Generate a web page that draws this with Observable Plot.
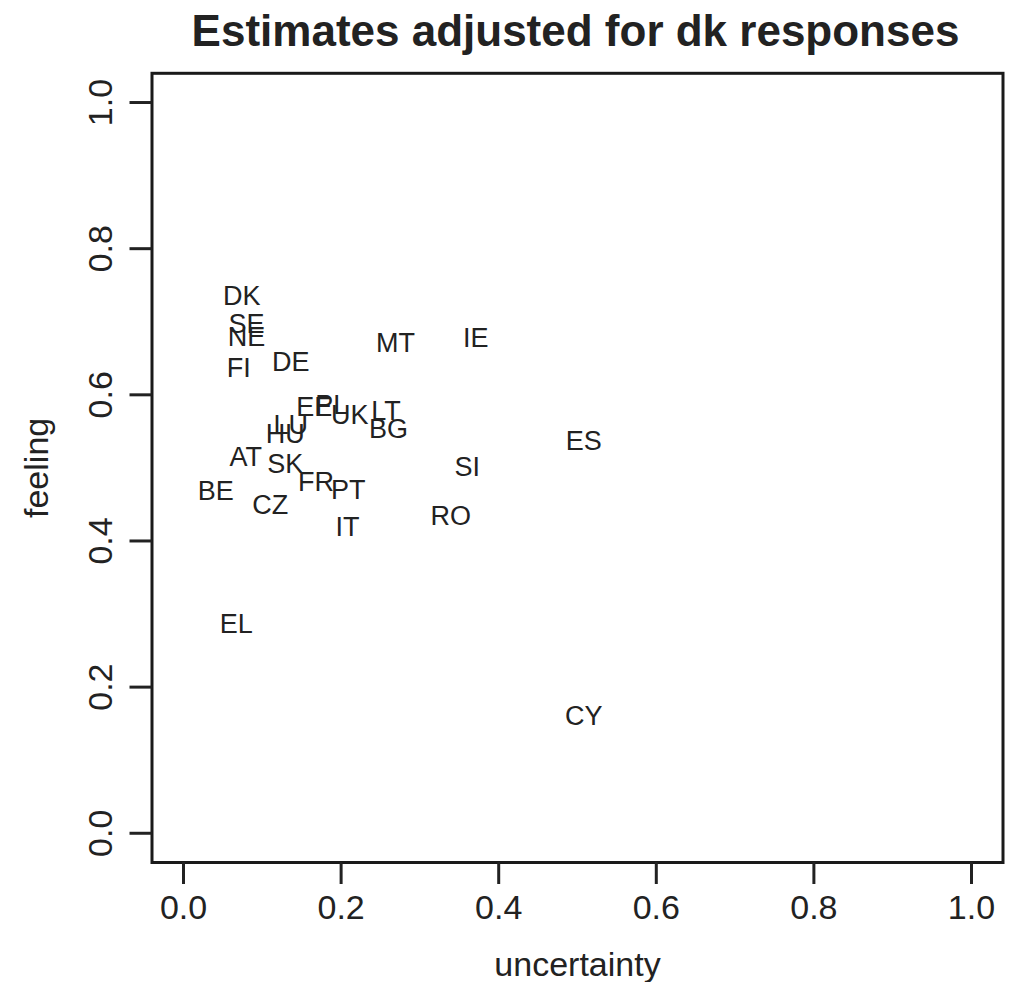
<!DOCTYPE html>
<html>
<head>
<meta charset="utf-8">
<script src="https://cdn.jsdelivr.net/npm/d3@7"></script>
<script src="https://cdn.jsdelivr.net/npm/@observablehq/plot@0.6"></script>
<style>
  body { margin: 0; background: #fff; }
  #wrap { position: relative; width: 1020px; height: 982px; font-family: "Liberation Sans", Arial, Helvetica, sans-serif; }
  #title { position: absolute; left: 0; width: 1151px; top: 6px; text-align: center; font-size: 44px; font-weight: bold; color: #222; }
</style>
</head>
<body>
<div id="wrap">
  <div id="title">Estimates adjusted for dk responses</div>
  <div id="chart"></div>
</div>
<script>
const countries = ["DK","SE","NE","FI","DE","MT","IE","EE","PL","UK","LT","BG","LU","HU","AT","SK","FR","PT","BE","CZ","IT","SI","RO","ES","EL","CY"];
const uncertainty = [0.074,0.080,0.080,0.070,0.136,0.269,0.371,0.166,0.188,0.211,0.257,0.260,0.136,0.129,0.079,0.129,0.168,0.209,0.041,0.110,0.208,0.360,0.339,0.508,0.067,0.508];
const feeling = [0.735,0.696,0.679,0.636,0.644,0.670,0.677,0.583,0.586,0.572,0.578,0.553,0.558,0.546,0.514,0.505,0.480,0.469,0.468,0.449,0.419,0.501,0.434,0.536,0.286,0.160];
const xTicks = [0, 0.2, 0.4, 0.6, 0.8, 1.0];
const yTicks = [0, 0.2, 0.4, 0.6, 0.8, 1.0];

const data = countries.map((c, i) => ({country: c, uncertainty: uncertainty[i], feeling: feeling[i]}));
const fmt = d => d.toFixed(1);
const font = '"Liberation Sans", Arial, Helvetica, sans-serif';

const chart = Plot.plot({
  width: 1020,
  height: 982,
  marginLeft: 151.5,
  marginRight: 17.5,
  marginTop: 72.8,
  marginBottom: 120,
  style: {fontFamily: font, background: "#fff", color: "#222"},
  x: {domain: [-0.04, 1.04]},
  y: {domain: [-0.04, 1.04]},
  marks: [
    Plot.frame({stroke: "#1a1a1a", strokeWidth: 3}),
    Plot.axisX({ticks: xTicks, tickSize: 22, tickPadding: 10, fontSize: 34, tickFormat: fmt, strokeWidth: 3, fill: "#222",
      label: "uncertainty", labelAnchor: "center", labelArrow: "none", labelOffset: 113}),
    Plot.axisY({ticks: yTicks, tickSize: 22, tickFormat: () => "", strokeWidth: 3, fontSize: 34,
      label: "feeling", labelAnchor: "center", labelArrow: "none", labelOffset: 128}),
    Plot.text(yTicks, {y: d => d, text: fmt, frameAnchor: "left", dx: -51, rotate: -90,
      textAnchor: "middle", lineAnchor: "middle", fontSize: 34, fill: "#222"}),
    Plot.text(data, {x: "uncertainty", y: "feeling", text: "country", fontSize: 27, fill: "#222"})
  ]
});
document.getElementById("chart").appendChild(chart);
</script>
</body>
</html>
